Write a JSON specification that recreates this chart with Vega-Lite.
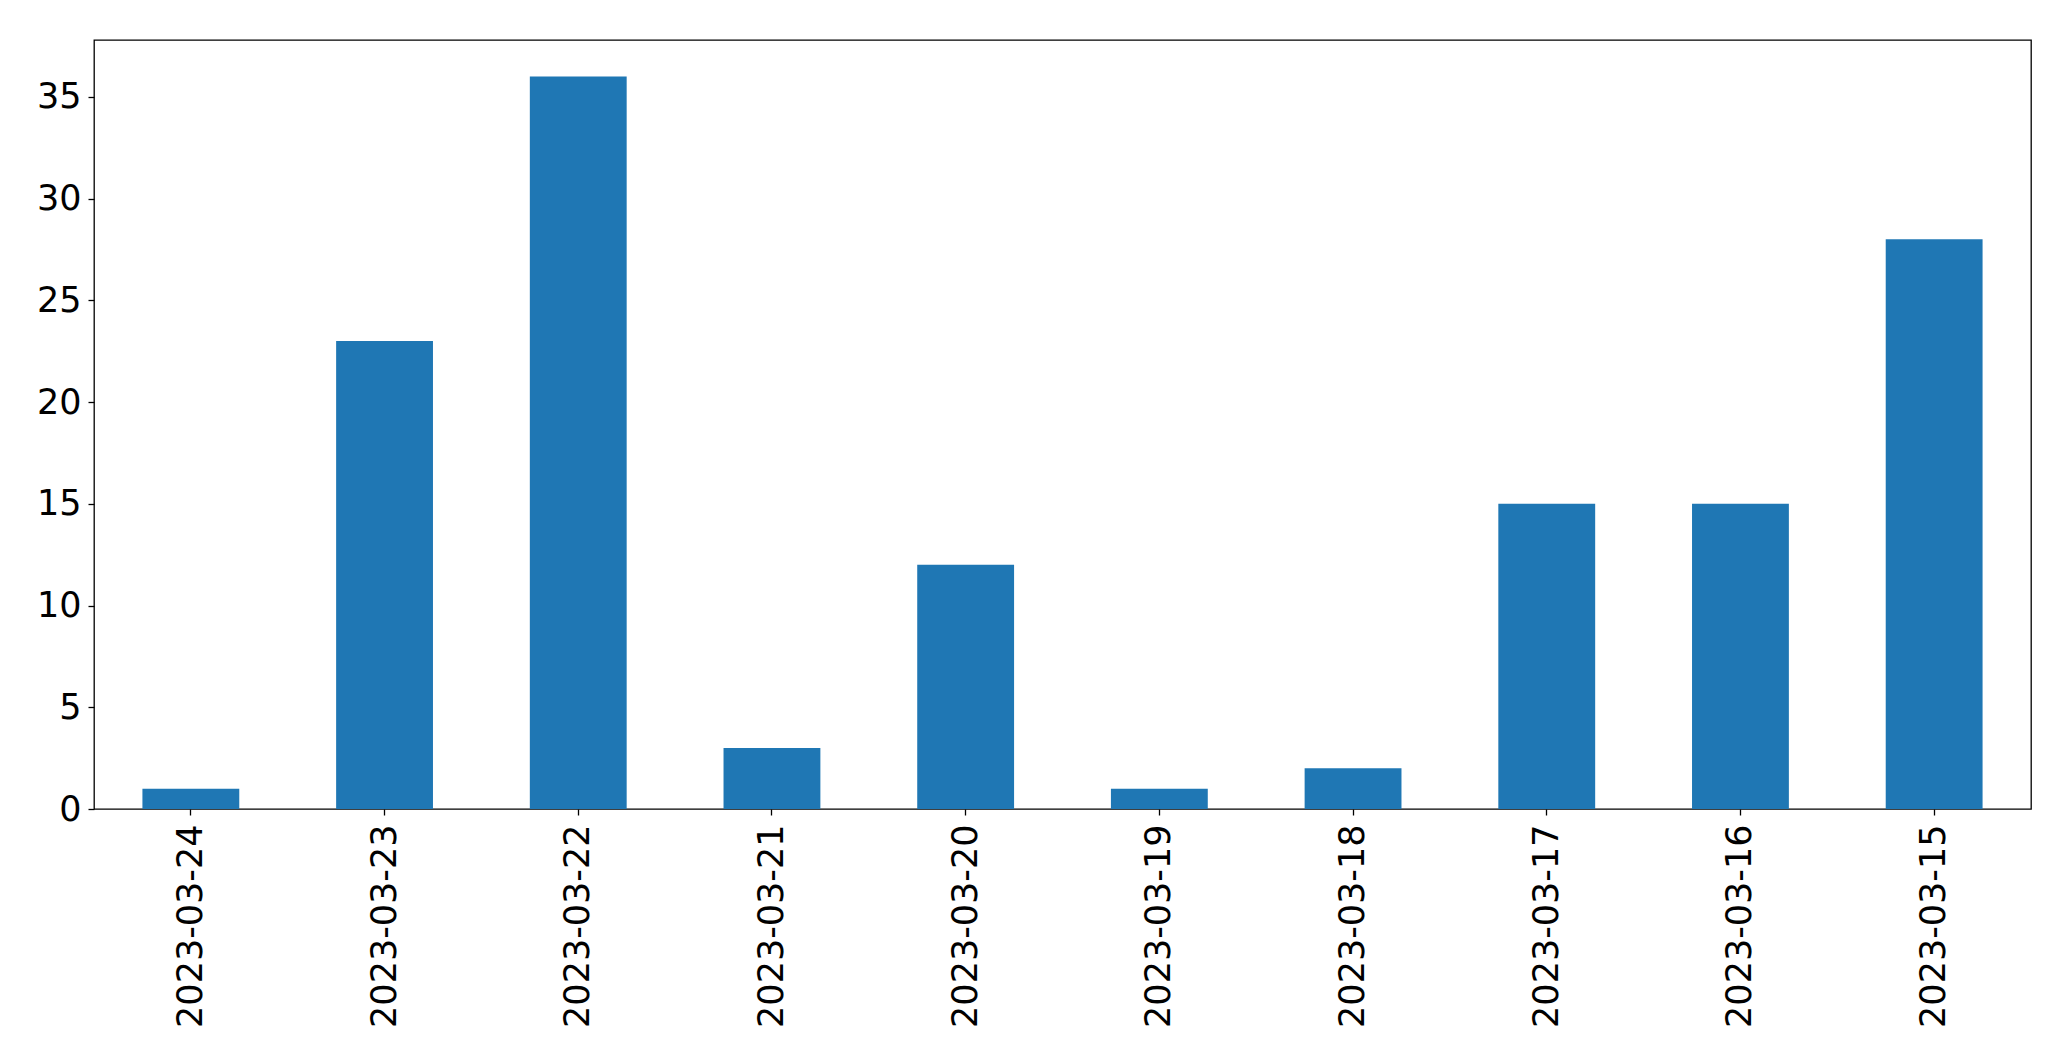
{
  "$schema": "https://vega.github.io/schema/vega-lite/v6.json",
  "width": 1937,
  "height": 769,
  "autosize": {"type": "none"},
  "padding": {"left": 94, "top": 40, "right": 40, "bottom": 252},
  "background": "white",
  "data": {"values": [
    {"date": "2023-03-24", "count": 1},
    {"date": "2023-03-23", "count": 23},
    {"date": "2023-03-22", "count": 36},
    {"date": "2023-03-21", "count": 3},
    {"date": "2023-03-20", "count": 12},
    {"date": "2023-03-19", "count": 1},
    {"date": "2023-03-18", "count": 2},
    {"date": "2023-03-17", "count": 15},
    {"date": "2023-03-16", "count": 15},
    {"date": "2023-03-15", "count": 28}
  ]},
  "config": {
    "view": {"stroke": "black", "strokeWidth": 1.3},
    "axis": {
      "labelFont": "DejaVu Sans",
      "labelFontSize": 35,
      "labelColor": "black",
      "labelLimit": 0,
      "tickColor": "black",
      "tickWidth": 1.3,
      "tickSize": 6,
      "domain": false,
      "grid": false,
      "title": null
    }
  },
  "mark": {"type": "bar", "color": "#1f77b4"},
  "encoding": {
    "x": {
      "field": "date",
      "type": "nominal",
      "sort": null,
      "scale": {"paddingInner": 0.5, "paddingOuter": 0.25},
      "axis": {"labelAngle": -90, "labelPadding": 9}
    },
    "y": {
      "field": "count",
      "type": "quantitative",
      "scale": {"domain": [0, 37.8], "nice": false},
      "axis": {"values": [0, 5, 10, 15, 20, 25, 30, 35], "labelPadding": 7}
    }
  }
}
